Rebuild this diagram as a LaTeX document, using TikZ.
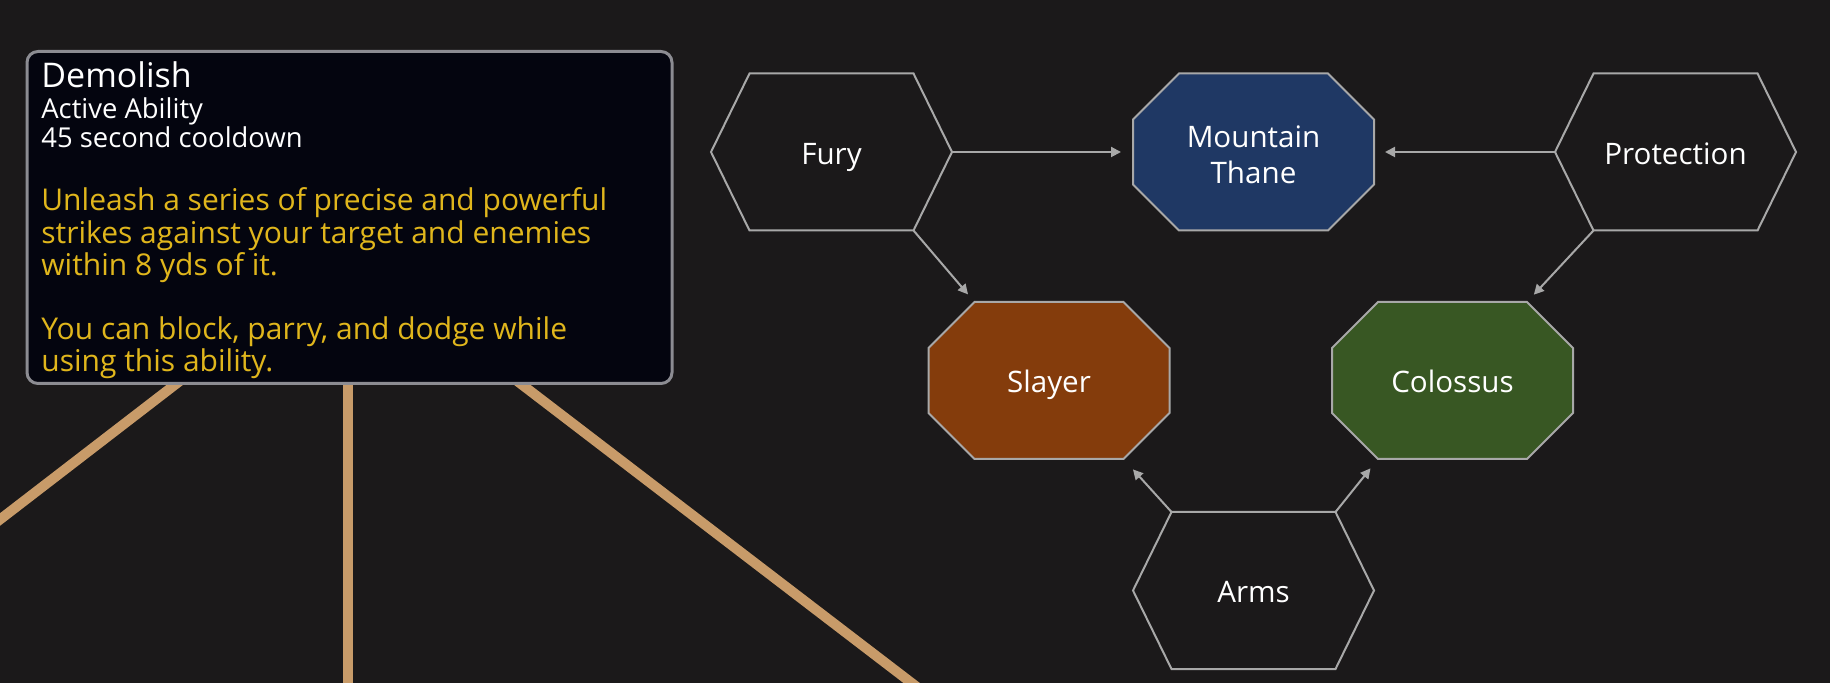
\documentclass[tikz,border=0pt]{standalone}
\usepackage{fontspec}
\setmainfont{Open Sans}
\usetikzlibrary{arrows.meta,calc}
\definecolor{bgdark}{RGB}{27,25,26}
\definecolor{tipfill}{RGB}{4,5,15}
\definecolor{tipedge}{RGB}{140,140,146}
\definecolor{cellgray}{RGB}{168,168,168}
\definecolor{leadtan}{RGB}{200,155,105}
\definecolor{goldtext}{RGB}{224,182,28}
\definecolor{thaneblue}{RGB}{31,56,100}
\definecolor{slayerbrown}{RGB}{132,60,12}
\definecolor{colossusgreen}{RGB}{56,87,35}
\tikzset{
  cell/.style={draw=cellgray, line width=1pt, line join=miter},
  celltext/.style={font=\fontsize{14.8}{18}\selectfont, text=white, align=center},
  oneline/.style={text height=12.3pt, text depth=0.2pt},
  twoline/.style={yshift=-1.2pt},
  link/.style={draw=cellgray, line width=1pt, -{Triangle[length=5pt,width=5pt]}},
  lead/.style={draw=leadtan, line width=5pt},
  tipbox/.style={draw=tipedge, fill=tipfill, line width=1.5pt, rounded corners=5.5pt,
                 minimum width=322.5pt, minimum height=166pt, inner sep=0pt},
  tiptitle/.style={font=\fontsize{17}{20}\selectfont, text=white, inner sep=0pt},
  tipsub/.style={font=\fontsize{13.7}{16}\selectfont, text=white, inner sep=0pt},
  tipbody/.style={font=\fontsize{15}{18}\selectfont, text=goldtext, inner sep=0pt},
}
\begin{document}
\begin{tikzpicture}[x=0.5pt,y=-0.5pt]
\fill[bgdark] (0,0) rectangle (1830,683);
\clip (0,0) rectangle (1830,683);

% leads from the ability card
\coordinate (hub) at (348,251.5);
\coordinate (leadL) at (-50,558);
\coordinate (leadM) at (348,720);
\coordinate (leadR) at (960,720);
\foreach \e in {leadL,leadM,leadR}
  \draw[lead] (hub) -- (\e);

% ability card
\node[tipbox] (demolish) at (349.5,217.5) {};
\node[tiptitle, anchor=base west] (title) at (41,87.5) {Demolish};
\node[tipsub, anchor=base west] (kind) at (41,118.8) {Active Ability};
\node[tipsub, anchor=base west] (cooldown) at (41,147.2) {45 second cooldown};
\foreach \i/\y/\txt in {
  1/211/{Unleash a series of precise and powerful},
  2/243.3/{strikes against your target and enemies},
  3/276/{within 8 yds of it.},
  4/339.3/{You can block, parry, and dodge while},
  5/371.7/{using this ability.}}
  \node[tipbody, anchor=base west] (body\i) at (41,\y) {\txt};

% specs
\foreach \n/\x/\y/\lab in {fury/831.5/152/Fury, prot/1675.5/152/Protection, arms/1253.5/590.5/Arms}{
  \draw[cell, shift={(\x,\y)}] (-120.5,0) coordinate (\n-w) -- (-82,-78.5) coordinate (\n-nw)
    -- (82,-78.5) coordinate (\n-ne) -- (120.5,0) coordinate (\n-e)
    -- (82,78.5) coordinate (\n-se) -- (-82,78.5) coordinate (\n-sw) -- cycle;
  \node[celltext, oneline] (\n) at (\x,\y) {\lab};
}

% hero talents
\foreach \n/\x/\y/\fc/\o/\lab in {thane/1253.5/152/thaneblue/twoline/{Mountain\\Thane},
    slay/1049/380.5/slayerbrown/oneline/Slayer, colo/1452.5/380.5/colossusgreen/oneline/Colossus}{
  \draw[cell, fill=\fc, shift={(\x,\y)}] (-120.5,0) coordinate (\n-w) -- (-120.5,-32.5)
    -- (-74.5,-78.5) coordinate (\n-nw) -- (74.5,-78.5) coordinate (\n-ne)
    -- (120.5,-32.5) -- (120.5,0) coordinate (\n-e) -- (120.5,32.5)
    -- (74.5,78.5) coordinate (\n-se) -- (-74.5,78.5) coordinate (\n-sw)
    -- (-120.5,32.5) -- cycle;
  \node[celltext, \o] (\n) at (\x,\y) {\lab};
}

\draw[link, shorten >=6pt] (fury-e) -- (thane-w);
\draw[link, shorten >=5.5pt] (prot-w) -- (thane-e);
\draw[link, shorten >=5pt] (fury-se) -- (slay-nw);
\draw[link, shorten >=5pt] (prot-sw) -- (colo-ne);
\draw[link, shorten >=7pt] (arms-nw) -- (slay-se);
\draw[link, shorten >=6pt] (arms-ne) -- (colo-sw);
\end{tikzpicture}
\end{document}
